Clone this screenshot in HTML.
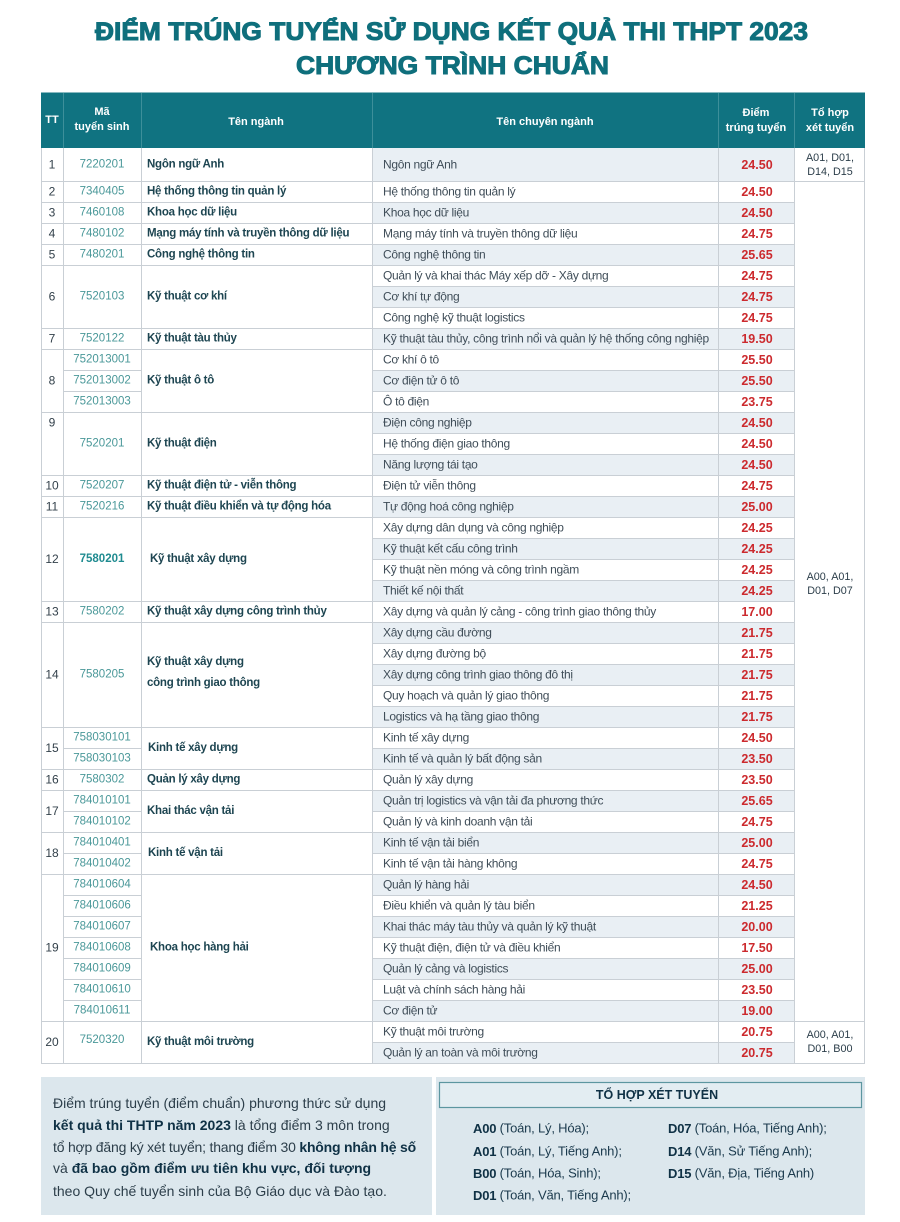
<!DOCTYPE html>
<html><head><meta charset="utf-8">
<style>
html,body{margin:0;padding:0;background:#fff;}
svg{display:block;}
text{dominant-baseline:central;}
.tt{font-size:12px;fill:#33414b;text-anchor:middle;}
.ma{font-size:11.5px;fill:#4a9899;text-anchor:middle;}
.tn{font-size:11.5px;font-weight:bold;fill:#1d4551;letter-spacing:-0.25px;}
.cn{font-size:12px;fill:#3f4d58;letter-spacing:-0.3px;}
.dm{font-size:12.5px;font-weight:bold;fill:#cc2a2e;text-anchor:middle;}
.th{font-size:10.8px;fill:#2c3e4a;text-anchor:middle;}
.hd{font-size:11px;font-weight:bold;fill:#fff;text-anchor:middle;}
.bt{font-size:14px;fill:#2c3e4a;}
.bb{font-weight:bold;fill:#0f3145;}
.cb{font-size:13px;fill:#1b3a4d;letter-spacing:-0.2px;}
</style></head>
<body>
<svg width="900" height="1222" viewBox="0 0 900 1222" font-family="'Liberation Sans','DejaVu Sans',sans-serif">
<rect width="900" height="1222" fill="#ffffff"/>
<!-- Title -->
<text x="95" y="32" font-size="25" font-weight="bold" fill="#0f6f7c" stroke="#0f6f7c" stroke-width="1" textLength="713" lengthAdjust="spacingAndGlyphs">ĐIỂM TRÚNG TUYỂN SỬ DỤNG KẾT QUẢ THI THPT 2023</text>
<text x="296" y="66" font-size="25" font-weight="bold" fill="#0f6f7c" stroke="#0f6f7c" stroke-width="1" textLength="313" lengthAdjust="spacingAndGlyphs">CHƯƠNG TRÌNH CHUẨN</text>

<!-- Header -->
<rect x="41" y="92.5" width="824" height="55.5" fill="#107381"/>
<g stroke="#3d8f9a" stroke-width="1">
<line x1="63.5" y1="93" x2="63.5" y2="148"/>
<line x1="141.5" y1="93" x2="141.5" y2="148"/>
<line x1="372.5" y1="93" x2="372.5" y2="148"/>
<line x1="718.5" y1="93" x2="718.5" y2="148"/>
<line x1="794.5" y1="93" x2="794.5" y2="148"/>
</g>
<text class="hd" x="52" y="120" font-size="11.5">TT</text>
<text class="hd" x="102" y="112">Mã</text>
<text class="hd" x="102" y="127">tuyển sinh</text>
<text class="hd" x="256" y="122">Tên ngành</text>
<text class="hd" x="545" y="122">Tên chuyên ngành</text>
<text class="hd" x="756" y="113">Điểm</text>
<text class="hd" x="756" y="128">trúng tuyển</text>
<text class="hd" x="830" y="113">Tổ hợp</text>
<text class="hd" x="830" y="128">xét tuyển</text>

<!-- Body background -->
<rect x="41" y="148" width="824" height="915" fill="#ffffff"/>
<g fill="#e9eff4">
<rect x="372" y="148" width="422" height="33"/>
<rect x="372" y="202" width="422" height="21"/>
<rect x="372" y="244" width="422" height="21"/>
<rect x="372" y="286" width="422" height="21"/>
<rect x="372" y="328" width="422" height="21"/>
<rect x="372" y="370" width="422" height="21"/>
<rect x="372" y="412" width="422" height="21"/>
<rect x="372" y="454" width="422" height="21"/>
<rect x="372" y="496" width="422" height="21"/>
<rect x="372" y="538" width="422" height="21"/>
<rect x="372" y="580" width="422" height="21"/>
<rect x="372" y="622" width="422" height="21"/>
<rect x="372" y="664" width="422" height="21"/>
<rect x="372" y="706" width="422" height="21"/>
<rect x="372" y="748" width="422" height="21"/>
<rect x="372" y="790" width="422" height="21"/>
<rect x="372" y="832" width="422" height="21"/>
<rect x="372" y="874" width="422" height="21"/>
<rect x="372" y="916" width="422" height="21"/>
<rect x="372" y="958" width="422" height="21"/>
<rect x="372" y="1000" width="422" height="21"/>
<rect x="372" y="1042" width="422" height="21"/>
</g>

<!-- Grid lines -->
<g stroke="#c9cfd5" stroke-width="1">
<line x1="41" y1="181.5" x2="372" y2="181.5"/>
<line x1="41" y1="202.5" x2="372" y2="202.5"/>
<line x1="41" y1="223.5" x2="372" y2="223.5"/>
<line x1="41" y1="244.5" x2="372" y2="244.5"/>
<line x1="41" y1="265.5" x2="372" y2="265.5"/>
<line x1="41" y1="328.5" x2="372" y2="328.5"/>
<line x1="41" y1="349.5" x2="372" y2="349.5"/>
<line x1="41" y1="412.5" x2="372" y2="412.5"/>
<line x1="41" y1="475.5" x2="372" y2="475.5"/>
<line x1="41" y1="496.5" x2="372" y2="496.5"/>
<line x1="41" y1="517.5" x2="372" y2="517.5"/>
<line x1="41" y1="601.5" x2="372" y2="601.5"/>
<line x1="41" y1="622.5" x2="372" y2="622.5"/>
<line x1="41" y1="727.5" x2="372" y2="727.5"/>
<line x1="41" y1="769.5" x2="372" y2="769.5"/>
<line x1="41" y1="790.5" x2="372" y2="790.5"/>
<line x1="41" y1="832.5" x2="372" y2="832.5"/>
<line x1="41" y1="874.5" x2="372" y2="874.5"/>
<line x1="41" y1="1021.5" x2="372" y2="1021.5"/>
<line x1="41" y1="1063.5" x2="865" y2="1063.5"/>
<line x1="63" y1="370.5" x2="141" y2="370.5"/>
<line x1="63" y1="391.5" x2="141" y2="391.5"/>
<line x1="63" y1="748.5" x2="141" y2="748.5"/>
<line x1="63" y1="811.5" x2="141" y2="811.5"/>
<line x1="63" y1="853.5" x2="141" y2="853.5"/>
<line x1="63" y1="895.5" x2="141" y2="895.5"/>
<line x1="63" y1="916.5" x2="141" y2="916.5"/>
<line x1="63" y1="937.5" x2="141" y2="937.5"/>
<line x1="63" y1="958.5" x2="141" y2="958.5"/>
<line x1="63" y1="979.5" x2="141" y2="979.5"/>
<line x1="63" y1="1000.5" x2="141" y2="1000.5"/>
<line x1="372" y1="181.5" x2="865" y2="181.5"/>
<line x1="372" y1="202.5" x2="794" y2="202.5"/>
<line x1="372" y1="223.5" x2="794" y2="223.5"/>
<line x1="372" y1="244.5" x2="794" y2="244.5"/>
<line x1="372" y1="265.5" x2="794" y2="265.5"/>
<line x1="372" y1="286.5" x2="794" y2="286.5"/>
<line x1="372" y1="307.5" x2="794" y2="307.5"/>
<line x1="372" y1="328.5" x2="794" y2="328.5"/>
<line x1="372" y1="349.5" x2="794" y2="349.5"/>
<line x1="372" y1="370.5" x2="794" y2="370.5"/>
<line x1="372" y1="391.5" x2="794" y2="391.5"/>
<line x1="372" y1="412.5" x2="794" y2="412.5"/>
<line x1="372" y1="433.5" x2="794" y2="433.5"/>
<line x1="372" y1="454.5" x2="794" y2="454.5"/>
<line x1="372" y1="475.5" x2="794" y2="475.5"/>
<line x1="372" y1="496.5" x2="794" y2="496.5"/>
<line x1="372" y1="517.5" x2="794" y2="517.5"/>
<line x1="372" y1="538.5" x2="794" y2="538.5"/>
<line x1="372" y1="559.5" x2="794" y2="559.5"/>
<line x1="372" y1="580.5" x2="794" y2="580.5"/>
<line x1="372" y1="601.5" x2="794" y2="601.5"/>
<line x1="372" y1="622.5" x2="794" y2="622.5"/>
<line x1="372" y1="643.5" x2="794" y2="643.5"/>
<line x1="372" y1="664.5" x2="794" y2="664.5"/>
<line x1="372" y1="685.5" x2="794" y2="685.5"/>
<line x1="372" y1="706.5" x2="794" y2="706.5"/>
<line x1="372" y1="727.5" x2="794" y2="727.5"/>
<line x1="372" y1="748.5" x2="794" y2="748.5"/>
<line x1="372" y1="769.5" x2="794" y2="769.5"/>
<line x1="372" y1="790.5" x2="794" y2="790.5"/>
<line x1="372" y1="811.5" x2="794" y2="811.5"/>
<line x1="372" y1="832.5" x2="794" y2="832.5"/>
<line x1="372" y1="853.5" x2="794" y2="853.5"/>
<line x1="372" y1="874.5" x2="794" y2="874.5"/>
<line x1="372" y1="895.5" x2="794" y2="895.5"/>
<line x1="372" y1="916.5" x2="794" y2="916.5"/>
<line x1="372" y1="937.5" x2="794" y2="937.5"/>
<line x1="372" y1="958.5" x2="794" y2="958.5"/>
<line x1="372" y1="979.5" x2="794" y2="979.5"/>
<line x1="372" y1="1000.5" x2="794" y2="1000.5"/>
<line x1="372" y1="1021.5" x2="865" y2="1021.5"/>
<line x1="372" y1="1042.5" x2="794" y2="1042.5"/>
<line x1="41.5" y1="148" x2="41.5" y2="1063"/>
<line x1="63.5" y1="148" x2="63.5" y2="1063"/>
<line x1="141.5" y1="148" x2="141.5" y2="1063"/>
<line x1="372.5" y1="148" x2="372.5" y2="1063"/>
<line x1="718.5" y1="148" x2="718.5" y2="1063"/>
<line x1="794.5" y1="148" x2="794.5" y2="1063"/>
<line x1="864.5" y1="148" x2="864.5" y2="1063"/>
</g>

<!-- TT -->
<text class="tt" x="52" y="164.5">1</text>
<text class="tt" x="52" y="191.5">2</text>
<text class="tt" x="52" y="212.5">3</text>
<text class="tt" x="52" y="233.5">4</text>
<text class="tt" x="52" y="254.5">5</text>
<text class="tt" x="52" y="296.5">6</text>
<text class="tt" x="52" y="338.5">7</text>
<text class="tt" x="52" y="380.5">8</text>
<text class="tt" x="52" y="422.5">9</text>
<text class="tt" x="52" y="485.5">10</text>
<text class="tt" x="52" y="506.5">11</text>
<text class="tt" x="52" y="559">12</text>
<text class="tt" x="52" y="611.5">13</text>
<text class="tt" x="52" y="674.5">14</text>
<text class="tt" x="52" y="748">15</text>
<text class="tt" x="52" y="779.5">16</text>
<text class="tt" x="52" y="811">17</text>
<text class="tt" x="52" y="853">18</text>
<text class="tt" x="52" y="947.5">19</text>
<text class="tt" x="52" y="1042">20</text>

<!-- Mã -->
<text class="ma" x="102" y="164.5">7220201</text>
<text class="ma" x="102" y="191.5">7340405</text>
<text class="ma" x="102" y="212.5">7460108</text>
<text class="ma" x="102" y="233.5">7480102</text>
<text class="ma" x="102" y="254.5">7480201</text>
<text class="ma" x="102" y="296.5">7520103</text>
<text class="ma" x="102" y="338.5">7520122</text>
<text class="ma" x="102" y="359.5">752013001</text>
<text class="ma" x="102" y="380.5">752013002</text>
<text class="ma" x="102" y="401.5">752013003</text>
<text class="ma" x="102" y="443.5">7520201</text>
<text class="ma" x="102" y="485.5">7520207</text>
<text class="ma" x="102" y="506.5">7520216</text>
<text class="ma" x="102" y="559" font-weight="bold" style="fill:#1f8b90">7580201</text>
<text class="ma" x="102" y="611.5">7580202</text>
<text class="ma" x="102" y="674.5">7580205</text>
<text class="ma" x="102" y="737.5">758030101</text>
<text class="ma" x="102" y="758.5">758030103</text>
<text class="ma" x="102" y="779.5">7580302</text>
<text class="ma" x="102" y="800.5">784010101</text>
<text class="ma" x="102" y="821.5">784010102</text>
<text class="ma" x="102" y="842.5">784010401</text>
<text class="ma" x="102" y="863.5">784010402</text>
<text class="ma" x="102" y="884.5">784010604</text>
<text class="ma" x="102" y="905.5">784010606</text>
<text class="ma" x="102" y="926.5">784010607</text>
<text class="ma" x="102" y="947.5">784010608</text>
<text class="ma" x="102" y="968.5">784010609</text>
<text class="ma" x="102" y="989.5">784010610</text>
<text class="ma" x="102" y="1010.5">784010611</text>
<text class="ma" x="102" y="1040">7520320</text>

<!-- Tên ngành -->
<text class="tn" x="147" y="164.5">Ngôn ngữ Anh</text>
<text class="tn" x="147" y="191.5">Hệ thống thông tin quản lý</text>
<text class="tn" x="147" y="212.5">Khoa học dữ liệu</text>
<text class="tn" x="147" y="233.5">Mạng máy tính và truyền thông dữ liệu</text>
<text class="tn" x="147" y="254.5">Công nghệ thông tin</text>
<text class="tn" x="147" y="296.5">Kỹ thuật cơ khí</text>
<text class="tn" x="147" y="338.5">Kỹ thuật tàu thủy</text>
<text class="tn" x="147" y="380.5">Kỹ thuật ô tô</text>
<text class="tn" x="147" y="443.5">Kỹ thuật điện</text>
<text class="tn" x="147" y="485.5">Kỹ thuật điện tử - viễn thông</text>
<text class="tn" x="147" y="506.5">Kỹ thuật điều khiển và tự động hóa</text>
<text class="tn" x="150" y="559">Kỹ thuật xây dựng</text>
<text class="tn" x="147" y="611.5">Kỹ thuật xây dựng công trình thủy</text>
<text class="tn" x="147" y="662">Kỹ thuật xây dựng</text>
<text class="tn" x="147" y="683">công trình giao thông</text>
<text class="tn" x="148" y="748">Kinh tế xây dựng</text>
<text class="tn" x="147" y="779.5">Quản lý xây dựng</text>
<text class="tn" x="147" y="811">Khai thác vận tải</text>
<text class="tn" x="148" y="853">Kinh tế vận tải</text>
<text class="tn" x="150" y="947.5">Khoa học hàng hải</text>
<text class="tn" x="147" y="1042">Kỹ thuật môi trường</text>

<!-- Chuyên ngành -->
<text class="cn" x="383" y="164.5">Ngôn ngữ Anh</text>
<text class="cn" x="383" y="191.5">Hệ thống thông tin quản lý</text>
<text class="cn" x="383" y="212.5">Khoa học dữ liệu</text>
<text class="cn" x="383" y="233.5">Mạng máy tính và truyền thông dữ liệu</text>
<text class="cn" x="383" y="254.5">Công nghệ thông tin</text>
<text class="cn" x="383" y="275.5">Quản lý và khai thác Máy xếp dỡ - Xây dựng</text>
<text class="cn" x="383" y="296.5">Cơ khí tự động</text>
<text class="cn" x="383" y="317.5">Công nghệ kỹ thuật logistics</text>
<text class="cn" x="383" y="338.5">Kỹ thuật tàu thủy, công trình nổi và quản lý hệ thống công nghiệp</text>
<text class="cn" x="383" y="359.5">Cơ khí ô tô</text>
<text class="cn" x="383" y="380.5">Cơ điện tử ô tô</text>
<text class="cn" x="383" y="401.5">Ô tô điện</text>
<text class="cn" x="383" y="422.5">Điện công nghiệp</text>
<text class="cn" x="383" y="443.5">Hệ thống điện giao thông</text>
<text class="cn" x="383" y="464.5">Năng lượng tái tạo</text>
<text class="cn" x="383" y="485.5">Điện tử viễn thông</text>
<text class="cn" x="383" y="506.5">Tự động hoá công nghiệp</text>
<text class="cn" x="383" y="527.5">Xây dựng dân dụng và công nghiệp</text>
<text class="cn" x="383" y="548.5">Kỹ thuật kết cấu công trình</text>
<text class="cn" x="383" y="569.5">Kỹ thuật nền móng và công trình ngầm</text>
<text class="cn" x="383" y="590.5">Thiết kế nội thất</text>
<text class="cn" x="383" y="611.5">Xây dựng và quản lý cảng - công trình giao thông thủy</text>
<text class="cn" x="383" y="632.5">Xây dựng cầu đường</text>
<text class="cn" x="383" y="653.5">Xây dựng đường bộ</text>
<text class="cn" x="383" y="674.5">Xây dựng công trình giao thông đô thị</text>
<text class="cn" x="383" y="695.5">Quy hoạch và quản lý giao thông</text>
<text class="cn" x="383" y="716.5">Logistics và hạ tầng giao thông</text>
<text class="cn" x="383" y="737.5">Kinh tế xây dựng</text>
<text class="cn" x="383" y="758.5">Kinh tế và quản lý bất động sản</text>
<text class="cn" x="383" y="779.5">Quản lý xây dựng</text>
<text class="cn" x="383" y="800.5">Quản trị logistics và vận tải đa phương thức</text>
<text class="cn" x="383" y="821.5">Quản lý và kinh doanh vận tải</text>
<text class="cn" x="383" y="842.5">Kinh tế vận tải biển</text>
<text class="cn" x="383" y="863.5">Kinh tế vận tải hàng không</text>
<text class="cn" x="383" y="884.5">Quản lý hàng hải</text>
<text class="cn" x="383" y="905.5">Điều khiển và quản lý tàu biển</text>
<text class="cn" x="383" y="926.5">Khai thác máy tàu thủy và quản lý kỹ thuật</text>
<text class="cn" x="383" y="947.5">Kỹ thuật điện, điện tử và điều khiển</text>
<text class="cn" x="383" y="968.5">Quản lý cảng và logistics</text>
<text class="cn" x="383" y="989.5">Luật và chính sách hàng hải</text>
<text class="cn" x="383" y="1010.5">Cơ điện tử</text>
<text class="cn" x="383" y="1031.5">Kỹ thuật môi trường</text>
<text class="cn" x="383" y="1052.5">Quản lý an toàn và môi trường</text>

<!-- Điểm -->
<text class="dm" x="757" y="165">24.50</text>
<text class="dm" x="757" y="192">24.50</text>
<text class="dm" x="757" y="213">24.50</text>
<text class="dm" x="757" y="234">24.75</text>
<text class="dm" x="757" y="255">25.65</text>
<text class="dm" x="757" y="276">24.75</text>
<text class="dm" x="757" y="297">24.75</text>
<text class="dm" x="757" y="318">24.75</text>
<text class="dm" x="757" y="339">19.50</text>
<text class="dm" x="757" y="360">25.50</text>
<text class="dm" x="757" y="381">25.50</text>
<text class="dm" x="757" y="402">23.75</text>
<text class="dm" x="757" y="423">24.50</text>
<text class="dm" x="757" y="444">24.50</text>
<text class="dm" x="757" y="465">24.50</text>
<text class="dm" x="757" y="486">24.75</text>
<text class="dm" x="757" y="507">25.00</text>
<text class="dm" x="757" y="528">24.25</text>
<text class="dm" x="757" y="549">24.25</text>
<text class="dm" x="757" y="570">24.25</text>
<text class="dm" x="757" y="591">24.25</text>
<text class="dm" x="757" y="612">17.00</text>
<text class="dm" x="757" y="633">21.75</text>
<text class="dm" x="757" y="654">21.75</text>
<text class="dm" x="757" y="675">21.75</text>
<text class="dm" x="757" y="696">21.75</text>
<text class="dm" x="757" y="717">21.75</text>
<text class="dm" x="757" y="738">24.50</text>
<text class="dm" x="757" y="759">23.50</text>
<text class="dm" x="757" y="780">23.50</text>
<text class="dm" x="757" y="801">25.65</text>
<text class="dm" x="757" y="822">24.75</text>
<text class="dm" x="757" y="843">25.00</text>
<text class="dm" x="757" y="864">24.75</text>
<text class="dm" x="757" y="885">24.50</text>
<text class="dm" x="757" y="906">21.25</text>
<text class="dm" x="757" y="927">20.00</text>
<text class="dm" x="757" y="948">17.50</text>
<text class="dm" x="757" y="969">25.00</text>
<text class="dm" x="757" y="990">23.50</text>
<text class="dm" x="757" y="1011">19.00</text>
<text class="dm" x="757" y="1032">20.75</text>
<text class="dm" x="757" y="1053">20.75</text>

<!-- Tổ hợp -->
<text class="th" x="830" y="158">A01, D01,</text>
<text class="th" x="830" y="172">D14, D15</text>
<text class="th" x="830" y="577">A00, A01,</text>
<text class="th" x="830" y="591">D01, D07</text>
<text class="th" x="830" y="1035">A00, A01,</text>
<text class="th" x="830" y="1049">D01, B00</text>

<!-- Bottom left box -->
<rect x="41" y="1077" width="391" height="138" fill="#dce7ed"/>
<text class="bt" x="53" y="1103">Điểm trúng tuyển (điểm chuẩn) phương thức sử dụng</text>
<text class="bt" x="53" y="1125"><tspan class="bb">kết quả thi THTP năm 2023</tspan> là tổng điểm 3 môn trong</text>
<text class="bt" x="53" y="1147" letter-spacing="-0.2">tổ hợp đăng ký xét tuyển; thang điểm 30 <tspan class="bb">không nhân hệ số</tspan></text>
<text class="bt" x="53" y="1168">và <tspan class="bb">đã bao gồm điểm ưu tiên khu vực, đối tượng</tspan></text>
<text class="bt" x="53" y="1191">theo Quy chế tuyển sinh của Bộ Giáo dục và Đào tạo.</text>

<!-- Bottom right box -->
<rect x="436" y="1077" width="429" height="138" fill="#dce7ed"/>
<rect x="439.5" y="1082.5" width="422" height="25" fill="#e3edf2" stroke="#5c96a0" stroke-width="1.2"/>
<text x="657" y="1095" font-size="12.5" font-weight="bold" fill="#0f3145" text-anchor="middle">TỔ HỢP XÉT TUYỂN</text>
<text class="cb" x="473" y="1128"><tspan font-weight="bold" fill="#0f3145">A00</tspan> (Toán, Lý, Hóa);</text>
<text class="cb" x="473" y="1151"><tspan font-weight="bold" fill="#0f3145">A01</tspan> (Toán, Lý, Tiếng Anh);</text>
<text class="cb" x="473" y="1173"><tspan font-weight="bold" fill="#0f3145">B00</tspan> (Toán, Hóa, Sinh);</text>
<text class="cb" x="473" y="1195"><tspan font-weight="bold" fill="#0f3145">D01</tspan> (Toán, Văn, Tiếng Anh);</text>
<text class="cb" x="668" y="1128"><tspan font-weight="bold" fill="#0f3145">D07</tspan> (Toán, Hóa, Tiếng Anh);</text>
<text class="cb" x="668" y="1151"><tspan font-weight="bold" fill="#0f3145">D14</tspan> (Văn, Sử Tiếng Anh);</text>
<text class="cb" x="668" y="1173"><tspan font-weight="bold" fill="#0f3145">D15</tspan> (Văn, Địa, Tiếng Anh)</text>
</svg>
</body></html>
